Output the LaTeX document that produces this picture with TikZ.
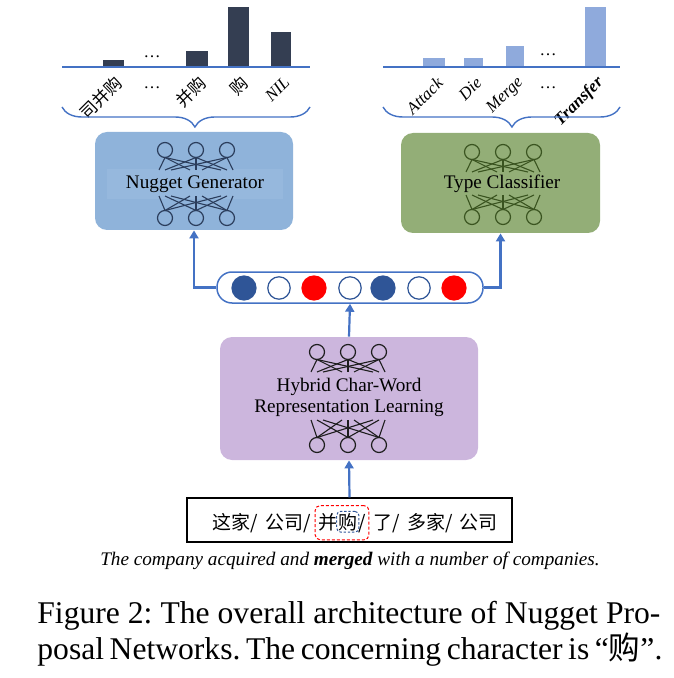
\documentclass[tikz,border=0pt]{standalone}
\usepackage{fontspec}
\setmainfont{Liberation Serif}
\newfontfamily\cjk{Noto Sans CJK SC}
\usepackage{xcolor}
\usetikzlibrary{calc}
\usetikzlibrary{arrows.meta}
\usetikzlibrary{decorations.pathreplacing}
\usetikzlibrary{fit}

\definecolor{barDark}{HTML}{343E52}
\definecolor{barLight}{HTML}{8FAADC}
\definecolor{lineBlue}{HTML}{4472C4}
\definecolor{ngFill}{HTML}{8FB3DA}
\definecolor{ngBand}{HTML}{96B8DD}
\definecolor{tcFill}{HTML}{93AE77}
\definecolor{hybFill}{HTML}{CCB6DD}
\definecolor{vecBlue}{HTML}{2F5597}
\definecolor{ngNet}{HTML}{2B3D5C}
\definecolor{tcNet}{HTML}{3A5420}
\definecolor{hybNet}{HTML}{1E1E1E}

\newcommand{\wsep}{/\hspace{0.38em}}
% small network icon: centre x, top row y, bottom row y, colour, bottom fan length
\newcommand{\netpic}[5]{%
  \foreach \i in {-1,0,1}{
    \draw[#4, line width=0.6pt] (#1+31*\i,#2) circle[radius=3.75pt];
    \draw[#4, line width=0.6pt] (#1+31*\i,#3) circle[radius=3.75pt];
    \foreach \j in {-1,0,1}{
      \draw[#4, line width=0.55pt] (#1+31*\i,#2+7.5) -- (#1+31*\j+6*\i,#2+20);
      \draw[#4, line width=0.55pt] (#1+31*\i,#3-7.5) -- (#1+31*\j+6*\i,#3-#5);
    }
  }%
}

\begin{document}
\frenchspacing
\begin{tikzpicture}
    [x=0.5pt, y=-0.5pt,
     module/.style={rectangle, rounded corners=6pt, inner sep=0pt, align=center,
                    font=\fontsize{9.6pt}{10.5pt}\selectfont},
     vcell/.style={circle, minimum size=12pt, inner sep=0pt, line width=0.6pt},
     barlab/.style={rotate=45, anchor=east, inner sep=0pt, font=\fontsize{8.5pt}{9pt}\selectfont},
     dots/.style={inner sep=0pt, font=\fontsize{8.5pt}{9pt}\selectfont},
     word/.style={anchor=base west, inner sep=0pt, font=\fontsize{9.5pt}{10pt}\selectfont\cjk},
     flow/.style={lineBlue, line width=1.1pt, -{Triangle[length=4pt,width=4.5pt]}},
     capline/.style={anchor=base west, inner sep=0pt, font=\fontsize{15.8pt}{18pt}\selectfont}]
    \useasboundingbox (0,0) rectangle (673,678);

    % output distributions
    \foreach \xa/\xb/\yt in {103/124/60,186/208/51,228/249/7,271/291/32}{
        \fill[barDark] (\xa,67) rectangle (\xb,\yt);
    }
    \foreach \xa/\xb/\yt in {423/445/58,464/483/58,506/524/46,585/606/7}{
        \fill[barLight] (\xa,67) rectangle (\xb,\yt);
    }
    \draw[lineBlue, line width=0.7pt] (62,67) -- (310,67);
    \draw[lineBlue, line width=0.7pt] (383,67) -- (620,67);
    \node[dots] (dl) at (152,57) {\ldots};
    \node[dots] (dr) at (548,55) {\ldots};

    \node[barlab] (l1) at (119,80) {\cjk 司并购};
    \node[dots] (l2) at (152,88) {\ldots};
    \node[barlab] (l3) at (203,80) {\cjk 并购};
    \node[barlab] (l4) at (245,80) {\cjk 购};
    \node[barlab] (l5) at (287,80) {\itshape NIL};
    \node[barlab] (r1) at (440,80) {\itshape Attack};
    \node[barlab] (r2) at (479,80) {\itshape Die};
    \node[barlab] (r3) at (521,80) {\itshape Merge};
    \node[dots] (r4) at (548,88) {\ldots};
    \node[barlab] (r5) at (601,80) {\bfseries\itshape Transfer};

    \draw[lineBlue, line width=0.7pt, decorate,
          decoration={brace, mirror, amplitude=10pt, aspect=0.536}] (62,107) -- (310,107);
    \draw[lineBlue, line width=0.7pt, decorate,
          decoration={brace, mirror, amplitude=10pt, aspect=0.544}] (383,107) -- (620,107);

    % modules
    \node[module, fill=ngFill, minimum width=99pt, minimum height=49pt] (ng) at (194,181) {};
    \node[module, fill=ngBand, rounded corners=0pt, minimum width=88pt, minimum height=15pt] (ngtext) at (195,184) {Nugget Generator};
    \netpic{196}{150}{218}{ngNet}{22}

    \node[module, fill=tcFill, minimum width=99.5pt, minimum height=50pt] (tc) at (500.5,183) {};
    \node[module] (tctext) at (502,184) {Type Classifier};
    \netpic{503}{152}{217}{tcNet}{22}

    \node[module, fill=hybFill, minimum width=129pt, minimum height=61.5pt] (hyb) at (349,398.5) {};
    \node[module] (hybtext) at (349,397) {Hybrid Char-Word\\Representation Learning};
    \netpic{348}{352}{445}{hybNet}{25}

    % hidden vector
    \node[rectangle, rounded corners=7.5pt, draw=lineBlue, line width=0.75pt,
          minimum width=133pt, minimum height=15.5pt] (vec) at (350,287.5) {};
    \foreach \n/\x/\c in {1/244/vecBlue,2/279/white,3/314/red,4/350/white,5/383/vecBlue,6/419/white,7/454/red}{
        \node(v\n)[vcell, fill=\c, draw=\c] at (\x,288) {};
    }
    \foreach \n in {2,4,6}{
        \draw[vecBlue, line width=0.6pt] (v\n) circle[radius=5.6pt];
    }

    % input sentence
    \node[rectangle, draw=black, line width=0.6pt, minimum width=162.5pt, minimum height=22pt] (sent) at (349.5,520) {};
    \node[word] (w1) at (212,529) {这家\wsep 公司/};
    \node[word, xshift=3.6pt] (w2) at (w1.base east) {并};
    \node[word] (w3) at (w2.base east) {购};
    \node[word] (w4) at (w3.base east) {/};
    \node[word, xshift=3.6pt] (w5) at (w4.base east) {了\wsep 多家\wsep 公司};
    \node[draw=red, dashed, dash pattern=on 1.5pt off 1pt, line width=0.5pt, rounded corners=2.5pt,
          inner xsep=1.5pt, inner ysep=3.5pt, fit=(w2)(w4)] (hl) {};
    \node[draw=vecBlue, dashed, dash pattern=on 1.2pt off 0.9pt, line width=0.5pt, rounded corners=2pt,
          inner sep=0.6pt, fit=(w3)] (hc) {};

    \node[inner sep=0pt, font=\fontsize{9.6pt}{11pt}\selectfont\itshape] (eng) at (350,561)
        {The company acquired and \textbf{merged} with a number of companies.};

    % connectors
    \draw[flow] (sent.north) -- (hyb.south);
    \draw[flow] (hyb.north) -- (vec.south);
    \draw[flow] (vec.west) -| (ng.south);
    \draw[flow] (vec.east) -| (tc.south);

    % caption
    \node[capline] (cap1) at (37,623) {\makebox[311.5pt][s]{Figure 2: The overall architecture of Nugget Pro-}};
    \node[capline] (cap2) at (37,659) {\makebox[312.5pt][s]{posal Networks. The concerning character is “{\cjk 购}”.}};
\end{tikzpicture}
\end{document}
